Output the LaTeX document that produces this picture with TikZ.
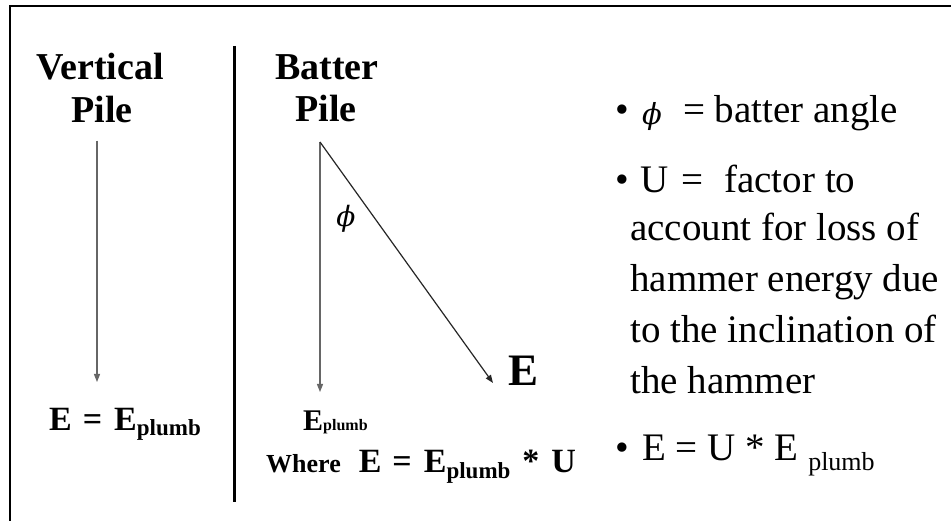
\documentclass[tikz,border=0pt]{standalone}
\usepackage{fontspec}
\setmainfont{Liberation Serif}
\newfontfamily\phifont{DejaVu Serif}
\usetikzlibrary{arrows.meta}
\newcommand\sublow[2]{\raisebox{-#1pt}{\fontsize{#2}{#2}\selectfont plumb}}
\newcommand\phisym{{\phifont\itshape ϕ}}
\begin{document}
\begin{tikzpicture}[x=1pt,y=-1pt,
  head/.style={font=\fontsize{38}{40}\selectfont\bfseries, inner sep=0pt, anchor=base},
  txt/.style={font=\fontsize{39}{44}\selectfont, inner sep=0pt, anchor=base west},
  eqn/.style={font=\fontsize{34}{38}\selectfont\bfseries, inner sep=0pt, anchor=base west},
  pilearrow/.style={line width=1.2pt, -{Triangle[length=8pt,width=6pt]}},
]
\useasboundingbox (0,0) rectangle (951,521);
\fill[white] (0,0) rectangle (951,521);
% frame and divider
\draw[line width=2.5pt] (10,530) -- (10,6) -- (960,6);
\draw[line width=3pt] (234,46) -- (234,502);
% headings
\node[head] (vert) at (100,80) {Vertical};
\node[head] (vpile) at (102,123) {Pile};
\node[head] (batter) at (327,80) {Batter};
\node[head] (bpile) at (326,122) {Pile};
% vertical pile arrow
\coordinate (vtop) at (97,141);
\coordinate (vbot) at (97,382);
\draw[pilearrow, draw=black!60, fill=black] (vtop) -- (vbot);
\node[eqn] (eqL) at (49,431) {E\hspace{11pt}=\hspace{12pt}E\sublow{5}{23}};
% batter pile arrows
\coordinate (btop) at (320,142);
\coordinate (bbot) at (320,392);
\coordinate (bend) at (493,383);
\draw[pilearrow, draw=black!60, fill=black] (btop) -- (bbot);
\draw[pilearrow, draw=black!85] (btop) -- (bend);
\node[font=\fontsize{28}{30}\selectfont, inner sep=0pt] (phi) at (346,219) {\phisym};
\node[font=\fontsize{45}{48}\selectfont\bfseries, anchor=base west, inner sep=0pt] (Ebig) at (508,385) {E};
\node[font=\fontsize{30}{32}\selectfont\bfseries, anchor=base west, inner sep=0pt] (Ep) at (303,430) {E\sublow{0}{16}};
\node[anchor=base west, inner sep=0pt] (where) at (266,472) {\fontsize{26}{28}\selectfont\bfseries Where\hspace{18pt}\fontsize{34}{38}\selectfont E\hspace{11pt}=\hspace{12pt}E\sublow{6}{23}\hspace{12pt}*\hspace{12pt}U};
% right column
\node[txt] (b1) at (615,123) {\textbullet};
\node[font=\fontsize{29}{31}\selectfont, inner sep=0pt] (phiR) at (652,117) {\phisym};
\node[txt] (l1) at (683,123) {= batter angle};
\node[txt] (b2) at (615,193) {\textbullet};
\node[txt] (l2) at (640,193) {U\hspace{13pt}=\hspace{21pt}factor to};
\node[txt] (l3) at (630,241) {account for loss of};
\node[txt] (l4) at (630,292) {hammer energy due};
\node[txt] (l5) at (630,343) {to the inclination of};
\node[txt] (l6) at (630,394) {the hammer};
\node[txt] (b3) at (615,460) {\textbullet};
\node[txt] (l7) at (642,460) {E = U * E \raisebox{-10pt}{\fontsize{26}{26}\selectfont plumb}};
\end{tikzpicture}
\end{document}
